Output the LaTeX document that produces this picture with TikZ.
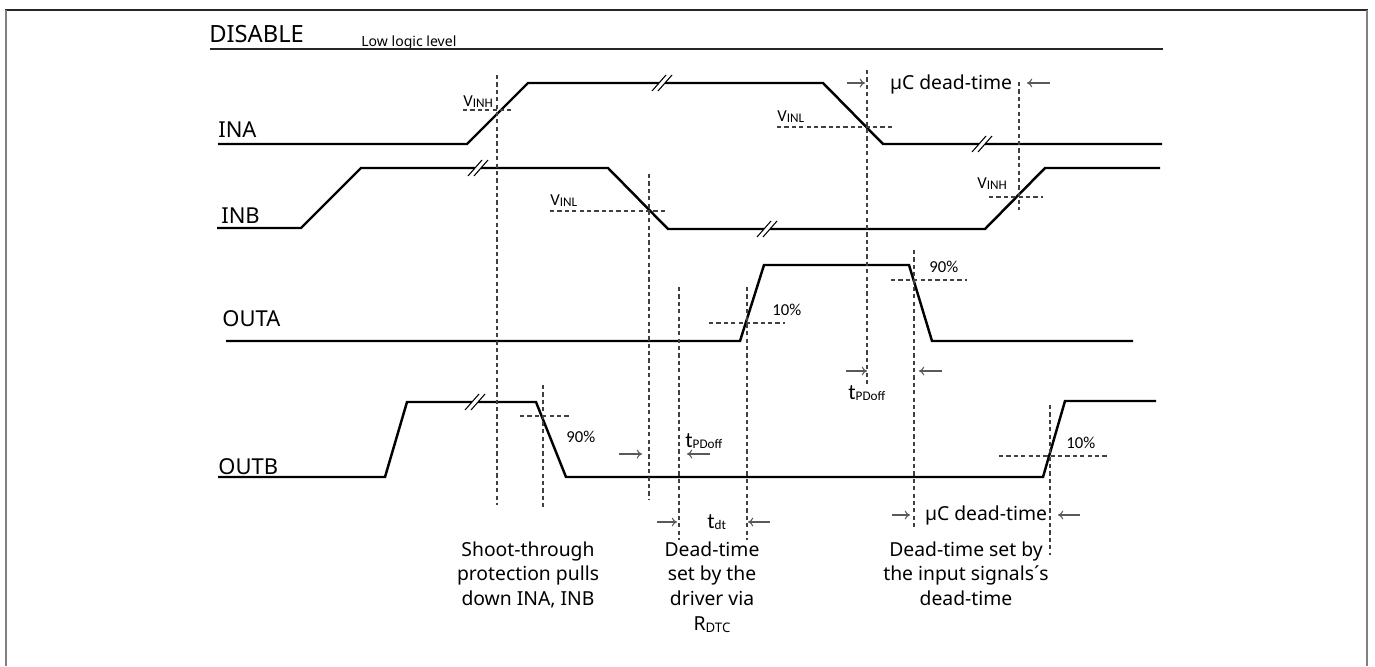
\documentclass[tikz,border=0pt]{standalone}
\usepackage{fontspec}
\setmainfont{Noto Sans}
\newfontfamily\calfont{Carlito}
\usetikzlibrary{arrows.meta}

% break mark on a waveform
\newcommand{\brkmark}[2]{%
  \fill[white] ({#1-3},{#2-4}) rectangle ({#1+3},{#2+4});
  \draw[line width=0.6pt] ({#1-10},{#2+8}) -- ({#1+4},{#2-8})
                          ({#1-4},{#2+8}) -- ({#1+10},{#2-8});}
% small index as printed (barely lowered)
\newcommand{\idx}[1]{\lower0.9pt\hbox{\fontsize{7.5}{8}\selectfont #1}}

\begin{document}
\begin{tikzpicture}[x=0.02cm, y=-0.02cm]
  \tikzset{signal/.style={line width=1.4pt, line join=miter},
           guide/.style={dash pattern=on 2.4pt off 1.8pt, line width=0.7pt, black!75},
           dimarrow/.style={-{To[length=3pt,width=5pt]}, line width=0.6pt, black!65},
           sname/.style={anchor=base west, inner sep=0pt, font=\fontsize{12.5}{14}\selectfont},
           small/.style={anchor=base west, inner sep=0pt, font=\calfont\fontsize{9.5}{11}\selectfont},
           tlabel/.style={anchor=base west, inner sep=0pt, font=\calfont\fontsize{12.5}{14}\selectfont},
           note/.style={anchor=north, align=center, inner sep=0pt, font=\fontsize{11}{14.2}\selectfont}}
  \useasboundingbox (0,0) rectangle (1375,666);

  % frame
  \draw[line width=1.2pt, black!85] (5,10) -- (1368,10);
  \draw[line width=1.2pt, gray] (6,10) -- (6,666) (1367,10) -- (1367,666);

  % DISABLE
  \node[anchor=base west, inner sep=0pt, font=\fontsize{13.5}{15}\selectfont] (dis) at (209,42) {DISABLE};
  \node[anchor=base west, inner sep=0pt, font=\fontsize{8}{10}\selectfont] (low) at (361,46) {Low logic level};
  \draw[line width=1pt, black!85] (210,49) -- (1163,49);

  % INA
  \node[sname] (ina) at (218,137) {INA};
  \draw[signal] (218,144) -- (467,144) -- (528,83) -- (823,83) -- (883,144) -- (1162,144);
  \brkmark{662}{83}
  \brkmark{982}{144}

  % INB
  \node[sname] (inb) at (221,223) {INB};
  \draw[signal] (217,228) -- (301,228) -- (361,168) -- (608,168) -- (668,229) -- (985,229) -- (1045,168) -- (1160,168);
  \brkmark{478}{168}
  \brkmark{767}{229}

  % OUTA
  \node[sname] (outa) at (222,326) {OUTA};
  \draw[signal] (226,341) -- (740,341) -- (764,265) -- (909,265) -- (932,341) -- (1133,341);

  % OUTB
  \node[sname] (outb) at (218,474) {OUTB};
  \draw[signal] (218,477) -- (385,477) -- (407,402) -- (536,402) -- (566,477) -- (1043,477) -- (1065,401) -- (1156,401);
  \brkmark{475}{402}

  % thresholds
  \draw[guide] (463,110) -- (511,110) (497,75) -- (497,505);
  \node[small] (vinha) at (463,106) {V\idx{INH}};
  \draw[guide] (777,127) -- (892,127) (867,70) -- (867,385);
  \node[small] (vinla) at (777,121) {V\idx{INL}};
  \draw[guide] (550,211) -- (665,211) (649,174) -- (649,500);
  \node[small] (vinlb) at (550,205) {V\idx{INL}};
  \draw[guide] (989,197) -- (1043,197) (1019,82) -- (1019,210);
  \node[small] (vinhb) at (977,188) {V\idx{INH}};
  \draw[guide] (709,323) -- (785,323) (679,287) -- (679,540) (747,287) -- (747,540);
  \node[small] (tena) at (772,315) {10\%};
  \draw[guide] (891,280) -- (967,280) (914,250) -- (914,530);
  \node[small] (ninea) at (929,272) {90\%};
  \draw[guide] (520,416) -- (570,416) (543,385) -- (543,507);
  \node[small] (nineb) at (566,442) {90\%};
  \draw[guide] (999,456) -- (1108,456) (1050,405) -- (1050,555);
  \node[small] (tenb) at (1066,448) {10\%};

  % timing marks
  \draw[dimarrow] (847,83) -- (865,83);
  \draw[dimarrow] (1050,83) -- (1027,83);
  \node[font=\fontsize{11}{13}\selectfont, inner sep=0pt] (dtop) at (951,84) {µC dead-time};
  \draw[dimarrow] (846,371) -- (867,371);
  \draw[dimarrow] (942,371) -- (919,371);
  \node[tlabel] (tpda) at (848,399) {t\idx{PDoff}};
  \draw[dimarrow] (619,454) -- (642,454);
  \draw[dimarrow] (710,454) -- (687,454);
  \node[tlabel] (tpdb) at (685,447) {t\idx{PDoff}};
  \draw[dimarrow] (657,522) -- (677,522);
  \draw[dimarrow] (770,522) -- (748,522);
  \node[tlabel] (tdt) at (707,528) {t\idx{dt}};
  \draw[dimarrow] (892,515) -- (910,515);
  \draw[dimarrow] (1080,515) -- (1058,515);
  \node[font=\fontsize{11}{13}\selectfont, inner sep=0pt] (dbot) at (986,515) {µC dead-time};

  % notes
  \node[note] (shoot) at (528,541) {Shoot-through\\protection pulls\\down INA, INB};
  \node[note] (drv) at (712,541) {Dead-time\\set by the\\driver via\\R\idx{DTC}};
  \node[note] (inp) at (966,541) {Dead-time set by\\the input signals´s\\dead-time};
\end{tikzpicture}
\end{document}
